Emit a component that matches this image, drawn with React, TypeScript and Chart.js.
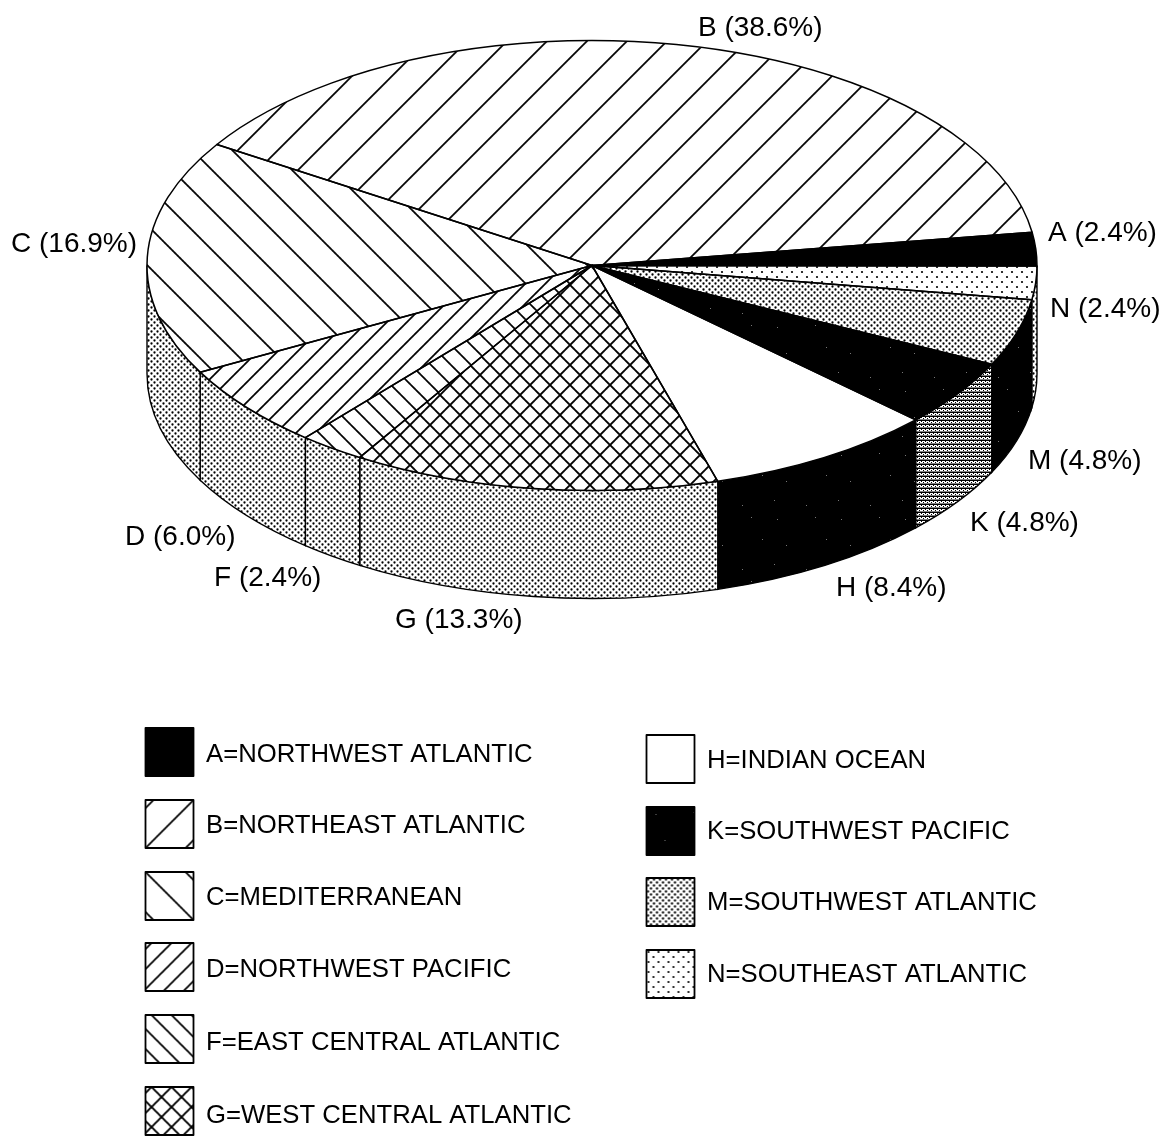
import React, { useEffect, useRef } from "react";
import { Chart, registerables } from "chart.js";

Chart.register(...registerables);

// ---- data ----
const categories = ["A", "N", "M", "K", "H", "G", "F", "D", "C", "B"];
const shares = [2.4, 2.4, 4.8, 4.8, 8.4, 13.3, 2.4, 6.0, 16.9, 38.6];
const legendLeft = [
  "A=NORTHWEST ATLANTIC",
  "B=NORTHEAST ATLANTIC",
  "C=MEDITERRANEAN",
  "D=NORTHWEST PACIFIC",
  "F=EAST CENTRAL ATLANTIC",
  "G=WEST CENTRAL ATLANTIC",
];
const legendRight = [
  "H=INDIAN OCEAN",
  "K=SOUTHWEST PACIFIC",
  "M=SOUTHWEST ATLANTIC",
  "N=SOUTHEAST ATLANTIC",
];

// ---- style tables ----
const W = 1163;
const H = 1138;
const CX = 592;
const CY = 265.5;
const R = 445;
const RY = 225;
const TILT = RY / R;
const DEPTH = 108;
const CHART_CY = 445;

const topFill = ["black", "sparse", "dots", "speck", "white", "cross", "back20", "fwd20", "back40", "fwd40"];
const wallFill = ["black", "dots", "speck", "lines", "speck", "dots", "dots", "dots", "dots", "dots"];
const legendFillLeft = ["black", "fwd40", "back40", "fwd20", "back20", "cross"];
const legendFillRight = ["white", "speck", "dots", "sparse"];

const labelSpots: Record<string, [number, number]> = {
  A: [1048, 241],
  N: [1050, 317],
  M: [1028, 469],
  K: [970, 531],
  H: [836, 596],
  G: [395, 628],
  F: [214, 586],
  D: [125, 545],
  C: [11, 252],
  B: [698, 36],
};

const phase: Record<string, [number, number]> = {
  fwd40: [28, 0],
  back40: [2, 0],
  fwd20: [9, 0],
  back20: [6, 0],
  cross: [10, 5],
};

function tile(size: number, paint: (c: CanvasRenderingContext2D, s: number) => void) {
  const cv = document.createElement("canvas");
  cv.width = size;
  cv.height = size;
  const c = cv.getContext("2d")!;
  c.fillStyle = "#fff";
  c.fillRect(0, 0, size, size);
  c.strokeStyle = "#000";
  c.fillStyle = "#000";
  paint(c, size);
  return cv;
}
function fwd(c: CanvasRenderingContext2D, s: number, lw: number) {
  c.lineWidth = lw;
  c.beginPath();
  c.moveTo(-2, s + 2);
  c.lineTo(s + 2, -2);
  c.moveTo(-2, 2);
  c.lineTo(2, -2);
  c.moveTo(s - 2, s + 2);
  c.lineTo(s + 2, s - 2);
  c.stroke();
}
function back(c: CanvasRenderingContext2D, s: number, lw: number) {
  c.lineWidth = lw;
  c.beginPath();
  c.moveTo(-2, -2);
  c.lineTo(s + 2, s + 2);
  c.moveTo(s - 2, -2);
  c.lineTo(s + 2, 2);
  c.moveTo(-2, s - 2);
  c.lineTo(2, s + 2);
  c.stroke();
}
function dot(c: CanvasRenderingContext2D, x: number, y: number, r: number) {
  c.beginPath();
  c.arc(x, y, r, 0, Math.PI * 2);
  c.fill();
}

function makeTiles() {
  return {
    black: tile(4, (c, s) => c.fillRect(0, 0, s, s)),
    white: tile(4, () => {}),
    fwd40: tile(40, (c, s) => fwd(c, s, 1.7)),
    back40: tile(40, (c, s) => back(c, s, 1.7)),
    fwd20: tile(20, (c, s) => fwd(c, s, 1.7)),
    back20: tile(20, (c, s) => back(c, s, 1.7)),
    cross: tile(20, (c, s) => {
      fwd(c, s, 1.9);
      back(c, s, 1.9);
    }),
    dots: tile(6, (c) => {
      dot(c, 1.5, 1.5, 1.15);
      dot(c, 4.5, 4.5, 1.15);
    }),
    sparse: tile(10, (c) => {
      dot(c, 2, 2, 1.1);
      dot(c, 7, 7, 1.1);
    }),
    lines: tile(4, (c) => {
      c.fillRect(0, 0, 4, 1);
      c.fillRect(1, 1, 1, 1);
      c.fillRect(3, 2, 1, 1);
      c.fillRect(0, 3, 4, 0.5);
    }),
    speck: tile(64, (c, s) => {
      c.fillRect(0, 0, s, s);
      c.fillStyle = "#777";
      [[9, 7], [47, 5], [58, 27], [18, 33], [6, 52], [38, 57]].forEach(([x, y]) => c.fillRect(x, y, 1, 1));
    }),
  } as Record<string, HTMLCanvasElement>;
}

export default function App() {
  const ref = useRef<HTMLCanvasElement>(null);

  useEffect(() => {
    const cv = ref.current!;
    const ctx = cv.getContext("2d")!;
    const tiles = makeTiles();

    const flat = (k: string) => ctx.createPattern(tiles[k], "repeat")!;
    // Patterns for the tilted top: undo the squash so the hatching keeps its screen angle.
    const squashed = (k: string) => {
      const p = ctx.createPattern(tiles[k], "repeat")!;
      const [px, py] = phase[k] || [0, 0];
      p.setTransform(
        new DOMMatrix()
          .translate(CX, CHART_CY)
          .scale(1, 1 / TILT)
          .translate(-CX, -CY)
          .translate(px, py)
      );
      return p;
    };

    const tiltPlugin = {
      id: "tilt",
      beforeDatasetsDraw(chart: any) {
        const c = chart.ctx as CanvasRenderingContext2D;
        const arcs = chart.getDatasetMeta(0).data;
        c.save();
        // side wall
        arcs.forEach((arc: any, i: number) => {
          const a = arc.getProps(["x", "startAngle", "endAngle", "outerRadius"], true);
          const s = Math.max(a.startAngle, 0);
          const e = Math.min(a.endAngle, Math.PI);
          if (e - s < 0.005) return;
          c.beginPath();
          c.ellipse(a.x, CY, a.outerRadius, RY, 0, s, e);
          c.ellipse(a.x, CY + DEPTH, a.outerRadius, RY, 0, e, s, true);
          c.closePath();
          c.fillStyle = flat(wallFill[i]);
          c.fill();
          c.strokeStyle = "#000";
          c.lineWidth = 1.4;
          c.stroke();
        });
        c.translate(CX, CY);
        c.scale(1, TILT);
        c.translate(-CX, -CHART_CY);
      },
      afterDatasetsDraw(chart: any) {
        const c = chart.ctx as CanvasRenderingContext2D;
        c.restore();
        const arcs = chart.getDatasetMeta(0).data;
        c.strokeStyle = "#000";
        c.lineWidth = 1.5;
        c.lineJoin = "round";
        arcs.forEach((arc: any) => {
          const a = arc.getProps(["x", "startAngle", "endAngle", "outerRadius"], true);
          c.beginPath();
          c.moveTo(a.x, CY);
          c.ellipse(a.x, CY, a.outerRadius, RY, 0, a.startAngle, a.endAngle);
          c.closePath();
          c.stroke();
        });
      },
      afterDraw(chart: any) {
        const c = chart.ctx as CanvasRenderingContext2D;
        c.save();
        c.fillStyle = "#000";
        c.textBaseline = "alphabetic";
        c.textAlign = "left";
        c.font = '28px "Liberation Sans"';
        categories.forEach((k, i) => {
          const [x, y] = labelSpots[k];
          c.fillText(`${k} (${shares[i].toFixed(1)}%)`, x, y);
        });
        const swatch = (x: number, y: number, kind: string) => {
          c.save();
          c.translate(x, y);
          const p = flat(kind);
          if (phase[kind]) {
            const off = kind === "fwd40" ? 8 : kind === "back40" ? 0 : 6;
            p.setTransform(new DOMMatrix().translate(off, 0));
          }
          c.fillStyle = p;
          c.fillRect(0, 0, 48, 48);
          c.strokeStyle = "#000";
          c.lineWidth = 1.8;
          c.strokeRect(0, 0, 48, 48);
          c.restore();
        };
        const leftRows = [728, 800, 872, 943, 1015, 1087];
        const leftBase = [762, 833, 905, 977, 1050, 1123];
        const rightRows = [735, 807, 878, 950];
        const rightBase = [768, 839, 910, 982];
        c.font = '25.7px "Liberation Sans"';
        legendLeft.forEach((t, i) => {
          swatch(145.5, leftRows[i], legendFillLeft[i]);
          c.fillStyle = "#000";
          c.fillText(t, 206, leftBase[i]);
        });
        legendRight.forEach((t, i) => {
          swatch(646.5, rightRows[i], legendFillRight[i]);
          c.fillStyle = "#000";
          c.fillText(t, 707, rightBase[i]);
        });
        c.restore();
      },
    };

    const chart = new Chart(cv, {
      type: "pie",
      data: {
        labels: categories,
        datasets: [
          {
            data: shares,
            backgroundColor: topFill.map(squashed),
            borderWidth: 0,
            clip: false,
          } as any,
        ],
      },
      options: {
        animation: false,
        responsive: false,
        rotation: 81.5,
        events: [],
        layout: {
          padding: { left: CX - R, right: W - CX - R, top: CHART_CY - R, bottom: H - CHART_CY - R },
        },
        plugins: { legend: { display: false }, tooltip: { enabled: false } },
      },
      plugins: [tiltPlugin as any],
    });
    return () => chart.destroy();
  }, []);

  return (
    <canvas
      ref={ref}
      width={W}
      height={H}
      style={{ position: "absolute", left: 0, top: 0, width: W, height: H, display: "block" }}
    />
  );
}
